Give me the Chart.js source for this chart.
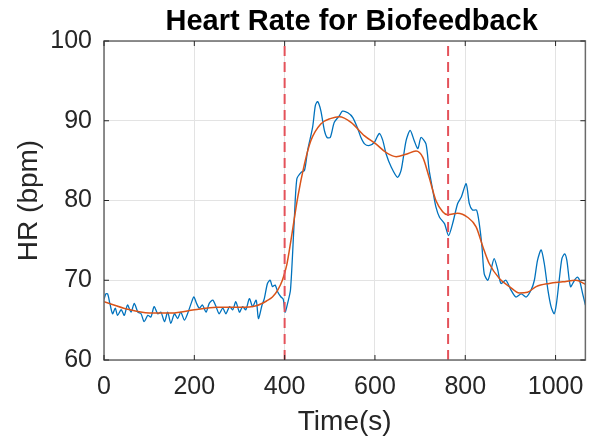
<!DOCTYPE html>
<html>
<head>
<meta charset="utf-8">
<script src="https://cdn.jsdelivr.net/npm/chart.js@4"></script>
<style>
  html, body { margin: 0; padding: 0; background: #fff; }
  #wrap { width: 596px; height: 439px; }
</style>
</head>
<body>
<div id="wrap"><canvas id="hrChart" width="596" height="439"></canvas></div>
<script>
// raw heart rate samples (s, bpm)
const rawTime = [0, 4, 8, 13, 19, 25, 30, 38, 45, 52, 60, 67, 75, 82, 89, 97, 104, 111, 119, 126,
  134, 141, 148, 156, 163, 170, 178, 185, 193, 199, 205, 211, 218, 226, 233, 241, 248, 255, 263, 270,
  278, 285, 292, 300, 307, 314, 322, 329, 337, 342, 350, 355, 362, 368, 373, 379, 385, 392, 397, 401,
  407, 413, 421, 427, 436, 444, 451, 462, 468, 473, 480, 488, 494, 501, 510, 521, 528, 540, 551, 562,
  569, 577, 588, 599, 605, 610, 617, 625, 636, 650, 658, 669, 678, 687, 695, 702, 713, 720, 728, 735,
  743, 754, 763, 772, 783, 791, 802, 809, 816, 825, 831, 837, 842, 850, 857, 864, 872, 879, 890, 901,
  912, 924, 935, 946, 953, 960, 968, 975, 983, 990, 997, 1002, 1008, 1014, 1020, 1025, 1033, 1042, 1048, 1053,
  1060, 1066];
const rawHR = [67.6, 68.3, 68.3, 67.1, 65.8, 66.5, 65.6, 66.3, 65.6, 66.9, 66.0, 67.1, 66.0, 65.8, 64.8, 65.6, 65.4, 66.7, 65.8, 66.0,
  64.8, 66.0, 64.6, 65.8, 65.2, 66.0, 65.0, 65.8, 67.1, 67.9, 67.1, 66.5, 66.9, 66.0, 67.1, 67.5, 66.7, 65.8, 66.5, 65.8,
  66.7, 66.3, 67.3, 66.0, 66.7, 66.3, 67.7, 66.7, 67.5, 65.2, 66.9, 67.7, 69.6, 70.0, 69.2, 69.4, 68.5, 67.9, 67.6, 66.0,
  67.2, 68.8, 77.1, 82.7, 83.5, 83.8, 86.3, 89.2, 91.9, 92.4, 91.3, 88.8, 87.9, 87.9, 89.8, 90.6, 91.2, 91.0, 90.4, 89.0,
  87.9, 87.1, 86.9, 87.3, 88.0, 88.4, 87.6, 85.8, 84.2, 82.9, 83.8, 87.5, 88.8, 87.5, 86.5, 87.9, 87.1, 83.8, 81.3, 79.2,
  77.9, 77.1, 75.6, 77.1, 79.6, 80.4, 82.1, 79.6, 78.8, 78.8, 77.1, 74.2, 70.8, 70.0, 71.3, 72.7, 71.3, 69.6, 70.0, 68.8,
  67.9, 68.3, 67.9, 68.8, 70.0, 72.5, 73.8, 72.1, 68.8, 66.7, 65.8, 67.1, 70.0, 72.7, 73.3, 72.5, 69.2, 70.0, 70.4, 70.0,
  68.3, 66.9];

// smoothed trend
const smoothTime = [0, 50, 100, 150, 200, 250, 300, 337, 360, 373, 385, 395, 405, 414, 429, 444, 458, 480, 503, 521,
  547, 577, 602, 625, 647, 669, 691, 706, 720, 735, 750, 761, 783, 805, 824, 839, 853, 876, 898, 920,
  938, 957, 986, 1016, 1045, 1066];
const smoothHR = [67.3, 66.4, 65.9, 65.9, 66.3, 66.6, 66.6, 66.8, 67.4, 67.9, 68.8, 70.0, 72.0, 75.0, 80.4, 84.6, 87.5, 89.6, 90.3, 90.5,
  89.8, 88.1, 87.1, 86.0, 85.5, 85.8, 86.2, 85.4, 82.9, 80.0, 78.6, 78.2, 78.4, 77.9, 76.7, 74.2, 72.1, 70.2, 69.2, 68.4,
  68.5, 69.2, 69.6, 69.8, 70.0, 69.5];

// session markers (s)
const markerTimes = [400, 762];

const xTicks = [0, 200, 400, 600, 800, 1000];
const yTicks = [60, 70, 80, 90, 100];
const xMax = 1066;

const textColor = '#262626';
const fontFamily = '"Liberation Sans", Arial, Helvetica, sans-serif';

function toPoints(xs, ys) {
  return xs.map((x, i) => ({ x: x, y: ys[i] }));
}

const markerSets = markerTimes.map(t => ({
  data: [{ x: t, y: yTicks[0] }, { x: t, y: yTicks[yTicks.length - 1] }],
  borderColor: '#e4525a',
  borderWidth: 2,
  borderDash: [10, 6],
  pointRadius: 0,
  order: 0
}));

// title, box outline and inward tick marks
const framePlugin = {
  id: 'frame',
  afterDatasetsDraw(chart) {
    const { ctx, chartArea: a, scales } = chart;
    ctx.save();
    ctx.strokeStyle = '#6a6a6a';
    ctx.lineWidth = 1.5;
    ctx.strokeRect(a.left, a.top, a.right - a.left, a.bottom - a.top);
    ctx.lineWidth = 1;
    ctx.strokeStyle = '#262626';
    ctx.beginPath();
    scales.x.ticks.forEach(t => {
      const px = scales.x.getPixelForValue(t.value);
      ctx.moveTo(px, a.bottom); ctx.lineTo(px, a.bottom - 5);
      ctx.moveTo(px, a.top); ctx.lineTo(px, a.top + 5);
    });
    scales.y.ticks.forEach(t => {
      const py = scales.y.getPixelForValue(t.value);
      ctx.moveTo(a.left, py); ctx.lineTo(a.left + 5, py);
      ctx.moveTo(a.right, py); ctx.lineTo(a.right - 5, py);
    });
    ctx.stroke();

    ctx.fillStyle = '#000';
    ctx.font = 'bold 29px ' + fontFamily;
    ctx.textAlign = 'center';
    ctx.textBaseline = 'alphabetic';
    ctx.fillText('Heart Rate for Biofeedback', (a.left + a.right) / 2 + 7, 30);
    ctx.restore();
  }
};

new Chart(document.getElementById('hrChart'), {
  type: 'line',
  data: {
    datasets: [
      ...markerSets,
      {
        data: toPoints(smoothTime, smoothHR),
        borderColor: '#d95319',
        borderWidth: 1.5,
        pointRadius: 0,
        cubicInterpolationMode: 'monotone',
        order: 1
      },
      {
        data: toPoints(rawTime, rawHR),
        borderColor: '#0072bd',
        borderWidth: 1.3,
        pointRadius: 0,
        tension: 0.25,
        order: 2
      }
    ]
  },
  options: {
    responsive: false,
    animation: false,
    layout: { padding: { top: 41, right: 10, bottom: 0, left: 0 } },
    plugins: { legend: { display: false }, tooltip: { enabled: false } },
    scales: {
      x: {
        type: 'linear',
        min: 0,
        max: xMax,
        afterBuildTicks: s => { s.ticks = xTicks.map(v => ({ value: v })); },
        afterFit: s => { s.height = 79; },
        grid: { color: '#e3e3e3', drawTicks: false },
        border: { display: false },
        ticks: { padding: 12, color: textColor, font: { family: fontFamily, size: 25 }, maxRotation: 0, callback: v => String(v) },
        title: { display: true, text: 'Time(s)', color: textColor, font: { family: fontFamily, size: 28 }, padding: { top: 0, bottom: 0 } }
      },
      y: {
        min: yTicks[0],
        max: yTicks[yTicks.length - 1],
        afterBuildTicks: s => { s.ticks = yTicks.map(v => ({ value: v })); },
        afterFit: s => { s.width = 104; },
        grid: { color: '#e3e3e3', drawTicks: false },
        border: { display: false },
        ticks: { padding: 12, color: textColor, font: { family: fontFamily, size: 25 }, callback: v => String(v) },
        title: { display: true, text: 'HR (bpm)', color: textColor, font: { family: fontFamily, size: 28 }, padding: { top: 12, bottom: 0 } }
      }
    }
  },
  plugins: [framePlugin]
});
</script>
</body>
</html>
